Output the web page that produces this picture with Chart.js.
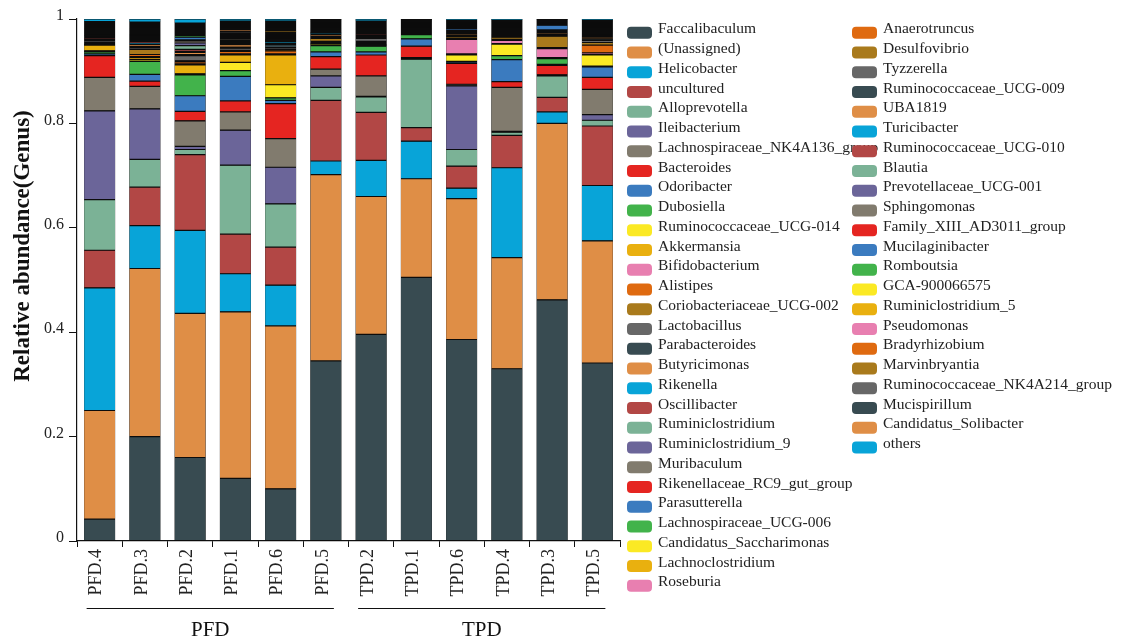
<!DOCTYPE html>
<html>
<head>
<meta charset="utf-8">
<script src="https://cdn.jsdelivr.net/npm/chart.js@4.4.1/dist/chart.umd.min.js"></script>
<style>
  html, body { margin: 0; padding: 0; background: #fff; }
  #chart { display: block; }
</style>
</head>
<body>
<canvas id="chart" width="1127" height="643"></canvas>
<script>
// ── samples (x axis) ──
const samples = ['PFD.4', 'PFD.3', 'PFD.2', 'PFD.1', 'PFD.6', 'PFD.5',
                 'TPD.2', 'TPD.1', 'TPD.6', 'TPD.4', 'TPD.3', 'TPD.5'];

const groups = [
  { name: 'PFD', from: 0, to: 5 },
  { name: 'TPD', from: 6, to: 11 },
];

const yTicks = [0, 0.2, 0.4, 0.6, 0.8, 1];

// ── genera, stacked bottom -> top ──
const genera = [
  'Faccalibaculum', '(Unassigned)', 'Helicobacter', 'uncultured', 'Alloprevotella',
  'Ileibacterium', 'Lachnospiraceae_NK4A136_group', 'Bacteroides', 'Odoribacter', 'Dubosiella',
  'Ruminococcaceae_UCG-014', 'Akkermansia', 'Bifidobacterium', 'Alistipes', 'Coriobacteriaceae_UCG-002',
  'Lactobacillus', 'Parabacteroides', 'Butyricimonas', 'Rikenella', 'Oscillibacter',
  'Ruminiclostridium', 'Ruminiclostridium_9', 'Muribaculum', 'Rikenellaceae_RC9_gut_group', 'Parasutterella',
  'Lachnospiraceae_UCG-006', 'Candidatus_Saccharimonas', 'Lachnoclostridium', 'Roseburia', 'Anaerotruncus',
  'Desulfovibrio', 'Tyzzerella', 'Ruminococcaceae_UCG-009', 'UBA1819', 'Turicibacter',
  'Ruminococcaceae_UCG-010', 'Blautia', 'Prevotellaceae_UCG-001', 'Sphingomonas', 'Family_XIII_AD3011_group',
  'Mucilaginibacter', 'Romboutsia', 'GCA-900066575', 'Ruminiclostridium_5', 'Pseudomonas',
  'Bradyrhizobium', 'Marvinbryantia', 'Ruminococcaceae_NK4A214_group', 'Mucispirillum', 'Candidatus_Solibacter',
  'others'
];

// 16 colours, repeated down the genus list
const palette = [
  '#384b51', '#df8e46', '#08a4d8', '#b24745', '#7bb296', '#6b6599', '#817b6e', '#e52521',
  '#3b7bbf', '#42b34b', '#fbe924', '#e9b00f', '#e87fb0', '#df6a10', '#a97a1c', '#676767'
];

// ── relative abundance per sample (same order as genera) ──
const PFD4 = [
  0.042, 0.208, 0.235, 0.072, 0.097, 0.170, 0.064, 0.042, 0.003, 0.004, 0.002, 0.011,
  0.002, 0.001, 0.002, 0.003, 0.001, 0.001, 0.001, 0.003, 0.001, 0.001, 0.001, 0.002,
  0.001, 0.001, 0.001, 0.001, 0.001, 0.001, 0.001, 0.001, 0.001, 0.001, 0.001, 0.001, 0.001, 0.001,
  0.001, 0.001, 0.001, 0.001, 0.001, 0.001, 0.001, 0.001, 0.001, 0.001, 0.001, 0.001,
  0.005
];
const PFD3 = [
  0.200, 0.322, 0.082, 0.074, 0.053, 0.097, 0.043, 0.010, 0.013, 0.025, 0.003, 0.004,
  0.002, 0.004, 0.010, 0.003, 0.002, 0.004, 0.003, 0.003, 0.002, 0.002, 0.002, 0.002,
  0.002, 0.001, 0.002, 0.002, 0.001, 0.001, 0.001, 0.001, 0.001, 0.001, 0.001, 0.001, 0.001, 0.001,
  0.001, 0.001, 0.001, 0.001, 0.001, 0.001, 0.001, 0.001, 0.001, 0.001, 0.001, 0.001,
  0.006
];
const PFD2 = [
  0.160, 0.276, 0.159, 0.145, 0.010, 0.006, 0.049, 0.018, 0.030, 0.040, 0.002, 0.017,
  0.002, 0.004, 0.002, 0.010, 0.002, 0.004, 0.002, 0.004, 0.007, 0.005, 0.004, 0.002,
  0.005, 0.003, 0.001, 0.001, 0.001, 0.001, 0.001, 0.001, 0.001, 0.001, 0.001, 0.001, 0.001, 0.001,
  0.001, 0.001, 0.001, 0.001, 0.001, 0.001, 0.001, 0.001, 0.001, 0.001, 0.001, 0.001,
  0.008
];
const PFD1 = [
  0.120, 0.319, 0.073, 0.076, 0.132, 0.067, 0.035, 0.021, 0.047, 0.011, 0.016, 0.014,
  0.002, 0.005, 0.002, 0.004, 0.002, 0.005, 0.002, 0.002, 0.002, 0.002, 0.003, 0.002,
  0.002, 0.002, 0.001, 0.001, 0.001, 0.001, 0.001, 0.003, 0.001, 0.003, 0.001, 0.001, 0.001, 0.001,
  0.001, 0.001, 0.001, 0.001, 0.001, 0.001, 0.001, 0.001, 0.001, 0.001, 0.001, 0.001,
  0.004
];
const PFD6 = [
  0.100, 0.312, 0.078, 0.073, 0.083, 0.070, 0.055, 0.067, 0.006, 0.005, 0.025, 0.057,
  0.002, 0.006, 0.003, 0.003, 0.006, 0.002, 0.003, 0.002, 0.002, 0.002, 0.002, 0.002,
  0.002, 0.002, 0.001, 0.001, 0.001, 0.001, 0.003, 0.001, 0.001, 0.001, 0.001, 0.001, 0.001, 0.001,
  0.001, 0.001, 0.001, 0.001, 0.001, 0.001, 0.001, 0.001, 0.001, 0.001, 0.001, 0.001,
  0.004
];
const PFD5 = [
  0.345, 0.357, 0.026, 0.116, 0.025, 0.022, 0.013, 0.024, 0.009, 0.012, 0.003, 0.002,
  0.001, 0.002, 0.006, 0.002, 0.002, 0.003, 0.003, 0.002, 0.001, 0.001, 0.001, 0.001,
  0.001, 0.001, 0.001, 0.001, 0.001, 0.001, 0.001, 0.001, 0.001, 0.001, 0.001, 0.001, 0.001, 0.001,
  0.001, 0.001, 0.001, 0, 0, 0, 0, 0, 0, 0, 0.001, 0.001,
  0.002
];
const TPD2 = [
  0.396, 0.264, 0.069, 0.092, 0.030, 0.001, 0.039, 0.040, 0.006, 0.011, 0.002, 0.002,
  0.001, 0.002, 0.002, 0.006, 0.002, 0.002, 0.001, 0.003, 0.001, 0.001, 0.001, 0.001,
  0.001, 0.001, 0.001, 0.001, 0.001, 0.001, 0.001, 0.001, 0.001, 0.001, 0.001, 0.001, 0.001, 0.001,
  0.001, 0.001, 0.001, 0, 0, 0, 0, 0, 0.001, 0.001, 0.001, 0.001,
  0.004
];
const TPD1 = [
  0.505, 0.189, 0.072, 0.026, 0.131, 0.001, 0.002, 0.022, 0.014, 0.008, 0.001, 0.001,
  0.001, 0.001, 0.001, 0.001, 0.001, 0.001, 0.001, 0.001, 0.001, 0.001, 0.001, 0.001,
  0.001, 0.001, 0.001, 0.001, 0.001, 0.001, 0.001, 0.001, 0.001, 0.001, 0.001, 0.001, 0.001, 0.001,
  0, 0, 0, 0, 0, 0, 0, 0, 0, 0, 0, 0,
  0.002
];
const TPD6 = [
  0.386, 0.270, 0.020, 0.042, 0.032, 0.122, 0.003, 0.040, 0.003, 0.001, 0.012, 0.002,
  0.028, 0.002, 0.003, 0.002, 0.001, 0.003, 0.001, 0.001, 0.001, 0.001, 0.001, 0.001,
  0.003, 0.001, 0.001, 0.001, 0.001, 0.001, 0.001, 0.001, 0.001, 0.001, 0.001, 0.001, 0.001, 0.001,
  0.001, 0.001, 0.001, 0, 0, 0, 0, 0, 0, 0, 0, 0,
  0.003
];
const TPD4 = [
  0.330, 0.213, 0.172, 0.062, 0.006, 0.002, 0.084, 0.011, 0.042, 0.008, 0.022, 0.001,
  0.006, 0.002, 0.004, 0.002, 0.002, 0.002, 0.001, 0.001, 0.001, 0.001, 0.001, 0.001,
  0.001, 0.001, 0.001, 0.001, 0.001, 0.001, 0.001, 0.001, 0.001, 0.001, 0.001, 0.001, 0.001, 0.001,
  0.001, 0.001, 0.001, 0.001, 0.001, 0.001, 0, 0, 0, 0, 0, 0,
  0.003
];
const TPD3 = [
  0.462, 0.338, 0.022, 0.028, 0.041, 0.001, 0.001, 0.018, 0.002, 0.011, 0.001, 0.001,
  0.017, 0.002, 0.022, 0.002, 0.001, 0.003, 0.001, 0.001, 0.001, 0.001, 0.001, 0.001,
  0.009, 0.001, 0.001, 0.001, 0.001, 0.001, 0.001, 0.001, 0.001, 0.001, 0.001, 0, 0, 0,
  0, 0, 0, 0, 0, 0, 0, 0, 0, 0, 0, 0,
  0.002
];
const TPD5 = [
  0.341, 0.234, 0.106, 0.114, 0.011, 0.011, 0.048, 0.023, 0.020, 0.002, 0.021, 0.001,
  0.003, 0.015, 0.005, 0.004, 0.003, 0.003, 0.001, 0.001, 0.001, 0.001, 0.001, 0.001,
  0.001, 0.001, 0.001, 0.001, 0.001, 0.001, 0.001, 0.001, 0.001, 0.001, 0.001, 0.001, 0.001, 0.001,
  0.001, 0.001, 0.001, 0.001, 0.001, 0.001, 0.001, 0.001, 0.001, 0.001, 0.001, 0.001,
  0.003
];

const columns = [PFD4, PFD3, PFD2, PFD1, PFD6, PFD5, TPD2, TPD1, TPD6, TPD4, TPD3, TPD5];

const SERIF = '"Liberation Serif", "Times New Roman", Times, serif';

const datasets = genera.map((g, i) => ({
  label: g,
  data: columns.map(c => c[i]),
  backgroundColor: palette[i % palette.length],
  borderColor: '#0d0d0d',
  borderWidth: { top: 0.6, bottom: 0.6, left: 0, right: 0 },
  borderSkipped: false,
  inflateAmount: 0,
  barPercentage: 0.685,
  categoryPercentage: 1,
}));

// dark backing under each stacked column, so hairline segments read as black
const backing = {
  id: 'backing',
  beforeDatasetsDraw(chart) {
    const ctx = chart.ctx;
    const ys = chart.scales.y;
    const base = chart.getDatasetMeta(0).data;
    ctx.save();
    ctx.fillStyle = '#0d0d0d';
    columns.forEach((col, i) => {
      const el = base[i];
      const total = col.reduce((s, v) => s + v, 0);
      const top = ys.getPixelForValue(total);
      const bot = ys.getPixelForValue(0);
      ctx.fillRect(el.x - el.width / 2, top, el.width, bot - top);
    });
    ctx.restore();
  }
};

// legend, axis title and group brackets
const extras = {
  id: 'extras',
  afterDraw(chart) {
    const ctx = chart.ctx;
    ctx.save();

    // legend: two fixed columns, 29 rows in the first
    ctx.font = '15.5px ' + SERIF;
    ctx.textAlign = 'left';
    ctx.textBaseline = 'alphabetic';
    chart.data.datasets.forEach((ds, i) => {
      const col = i < 29 ? 0 : 1;
      const row = col ? i - 29 : i;
      const sx = col ? 852 : 627;
      const base = 33.3 + row * 19.75;
      ctx.fillStyle = ds.backgroundColor;
      ctx.beginPath();
      ctx.roundRect(sx, base - 6.5, 25, 12, 4);
      ctx.fill();
      ctx.fillStyle = '#222';
      ctx.fillText(ds.label, sx + 31, base);
    });

    // y axis title
    ctx.save();
    ctx.translate(23, 246);
    ctx.rotate(-Math.PI / 2);
    ctx.font = 'bold 23px ' + SERIF;
    ctx.fillStyle = '#111';
    ctx.textAlign = 'center';
    ctx.textBaseline = 'middle';
    ctx.fillText('Relative abundance(Genus)', 0, 0);
    ctx.restore();

    // group brackets
    const xs = chart.scales.x;
    ctx.strokeStyle = '#111';
    ctx.lineWidth = 1.2;
    ctx.fillStyle = '#111';
    ctx.font = '21px ' + SERIF;
    ctx.textAlign = 'center';
    groups.forEach(g => {
      const a = xs.getPixelForValue(g.from) - 13;
      const b = xs.getPixelForValue(g.to) + 8;
      ctx.beginPath();
      ctx.moveTo(a, 608.5);
      ctx.lineTo(b, 608.5);
      ctx.stroke();
      ctx.fillText(g.name, (a + b) / 2, 636);
    });

    ctx.restore();
  }
};

new Chart(document.getElementById('chart'), {
  type: 'bar',
  data: { labels: samples, datasets },
  options: {
    responsive: false,
    animation: false,
    layout: { padding: { left: 0, top: 19, right: 507, bottom: 0 } },
    plugins: {
      legend: { display: false },
      tooltip: { enabled: false }
    },
    scales: {
      x: {
        stacked: true,
        grid: { drawOnChartArea: false, color: '#111', tickLength: 6 },
        border: { color: '#111', width: 1.2 },
        ticks: {
          minRotation: 90, maxRotation: 90,
          color: '#222', padding: 2, labelOffset: -3,
          font: { family: SERIF, size: 18 }
        },
        afterFit(s) { s.height = 102; }
      },
      y: {
        stacked: true,
        min: 0, max: 1,
        afterBuildTicks(s) { s.ticks = yTicks.map(v => ({ value: v })); },
        grid: { drawOnChartArea: false, color: '#111', tickLength: 8 },
        border: { color: '#111', width: 1.2 },
        ticks: {
          color: '#222', padding: 5, labelOffset: -3,
          font: { family: SERIF, size: 16 },
          callback: v => String(v)
        },
        afterFit(s) { s.width = 77; }
      }
    }
  },
  plugins: [backing, extras]
});
</script>
</body>
</html>
